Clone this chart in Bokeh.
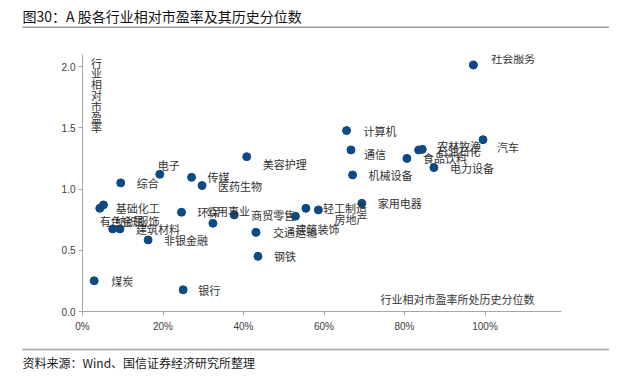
from bokeh.plotting import figure
from bokeh.layouts import column
from bokeh.models import (ColumnDataSource, Range1d, FixedTicker, NumeralTickFormatter,
                          Label, BoxAnnotation, Plot)
from bokeh.core.properties import value
from bokeh.embed import file_html
from bokeh.resources import INLINE

industries = ["社会服务", "计算机", "通信", "机械设备", "家用电器", "汽车", "农林牧渔", "石油石化",
              "食品饮料", "电力设备", "美容护理", "电子", "传媒", "医药生物", "综合", "基础化工",
              "纺织服饰", "有色金属", "建筑材料", "非银金融", "环保", "公用事业", "商贸零售",
              "交通运输", "钢铁", "银行", "煤炭", "建筑装饰", "轻工制造", "房地产"]
pe_percentile = [0.971, 0.656, 0.667, 0.671, 0.694, 0.995, 0.844, 0.835,
                 0.806, 0.873, 0.408, 0.192, 0.271, 0.297, 0.095, 0.043,
                 0.052, 0.075, 0.093, 0.163, 0.246, 0.324, 0.377,
                 0.431, 0.436, 0.250, 0.029, 0.529, 0.555, 0.586]
relative_pe = [2.014, 1.478, 1.320, 1.116, 0.884, 1.404, 1.325, 1.320,
               1.251, 1.176, 1.265, 1.121, 1.096, 1.029, 1.051, 0.843,
               0.871, 0.675, 0.675, 0.585, 0.811, 0.721, 0.789,
               0.647, 0.451, 0.177, 0.251, 0.778, 0.843, 0.830]
x_ticks = [0, 0.2, 0.4, 0.6, 0.8, 1.0]
y_ticks = [0, 0.5, 1.0, 1.5, 2.0]

# label placement (pixels, relative to each point)
label_dx = [18, 17, 13, 16, 16, 14, 15, 18, 16, 16, 16, -2, 16, 16, 16, 16,
            12, -13, 16, 16, 16, -7, 17, 17, 16, 15, 17, 0, 17, 16]
label_dy = [-7, 0, 4, 0, 0, 7, -3, 1, 0, 0, 7, -9, 0, 0, 0, 0,
            16, -8, 0, 0, 0, -12, 0, 0, 0, 0, 0, 13, 0, 9]

CJK = "Noto Sans CJK SC"
LAT = "Liberation Sans"
W = 609
HAS_FRAME_ALIGN = "frame_align" in Plot.properties()


def blank_fig(h):
    f = figure(width=W, height=h, output_backend="svg", toolbar_location=None,
               x_range=Range1d(0, W), y_range=Range1d(0, h),
               x_axis_location=None, y_axis_location=None,
               min_border=0, min_border_left=0, min_border_right=0,
               min_border_top=0, min_border_bottom=0)
    f.outline_line_color = None
    f.xgrid.grid_line_color = None
    f.ygrid.grid_line_color = None
    if HAS_FRAME_ALIGN:
        f.frame_align = False
    return f


X0 = 0 if HAS_FRAME_ALIGN else -82

# ---- header ----
head = blank_fig(40)
head.add_layout(Label(x=22 + X0, y=25, x_units="screen", y_units="screen",
                      text="图30：A 股各行业相对市盈率及其历史分位数", text_font=CJK,
                      text_font_size="14px", text_color="#111111",
                      text_align="left", text_baseline="middle"))
head.add_layout(BoxAnnotation(left=22 + X0, right=W + X0, bottom=12.5, top=14,
                              left_units="screen", right_units="screen",
                              bottom_units="screen", top_units="screen",
                              fill_color="#999999", fill_alpha=1, line_color=None))

# ---- main chart ----
src = ColumnDataSource(dict(x=pe_percentile, y=relative_pe, name=industries,
                            dx=label_dx, dy=label_dy))

p = figure(width=W, height=300, output_backend="svg", toolbar_location=None,
           x_range=Range1d(0, 1.19), y_range=Range1d(0, 2.1),
           min_border_left=82, min_border_right=48, min_border_top=14, min_border_bottom=29)
p.outline_line_color = None
p.xgrid.grid_line_color = None
p.ygrid.grid_line_color = None
if HAS_FRAME_ALIGN:
    p.frame_align = False

for ax in (p.xaxis[0], p.yaxis[0]):
    ax.axis_line_color = "#a6a6a6"
    ax.major_tick_line_color = "#a6a6a6"
    ax.major_tick_out = 4
    ax.major_tick_in = 0
    ax.minor_tick_line_color = None
    ax.major_label_text_font = LAT
    ax.major_label_text_font_size = "10px"
    ax.major_label_text_color = "#404040"

p.xaxis.ticker = FixedTicker(ticks=x_ticks)
p.xaxis.formatter = NumeralTickFormatter(format="0%")
p.xaxis.major_label_standoff = 5
p.yaxis.ticker = FixedTicker(ticks=y_ticks)
p.yaxis.formatter = NumeralTickFormatter(format="0.0")
p.yaxis.major_label_standoff = 3

p.scatter("x", "y", source=src, size=8, color="#0d4a84", line_color="#0d4a84")
p.text("x", "y", text="name", source=src, x_offset="dx", y_offset="dy",
       text_font=value(CJK), text_font_size="11px", text_color="#333333",
       text_baseline="middle", text_align="left")

# Y axis title (stacked characters)
for i, ch in enumerate("行业相对市盈率"):
    p.add_layout(Label(x=14, y=257 - i * 10.8, x_units="screen", y_units="screen", text=ch,
                       text_font=CJK, text_font_size="11px", text_color="#333333",
                       text_align="center", text_baseline="top"))

# X axis title
p.add_layout(Label(x=452, y=13, x_units="screen", y_units="screen",
                   text="行业相对市盈率所处历史分位数", text_font=CJK, text_font_size="11px",
                   text_color="#333333", text_align="right", text_baseline="middle"))

# ---- footer ----
foot = blank_fig(30)
foot.add_layout(BoxAnnotation(left=22 + X0, right=W + X0, bottom=20, top=22,
                              left_units="screen", right_units="screen",
                              bottom_units="screen", top_units="screen",
                              fill_color="#b3b3b3", fill_alpha=1, line_color=None))
foot.add_layout(Label(x=22 + X0, y=8, x_units="screen", y_units="screen",
                      text="资料来源：Wind、国信证券经济研究所整理", text_font=CJK,
                      text_font_size="12px", text_color="#1a1a1a",
                      text_align="left", text_baseline="middle"))

layout = column(head, p, foot, spacing=0)
open("out.html", "w").write(file_html(layout, INLINE))
